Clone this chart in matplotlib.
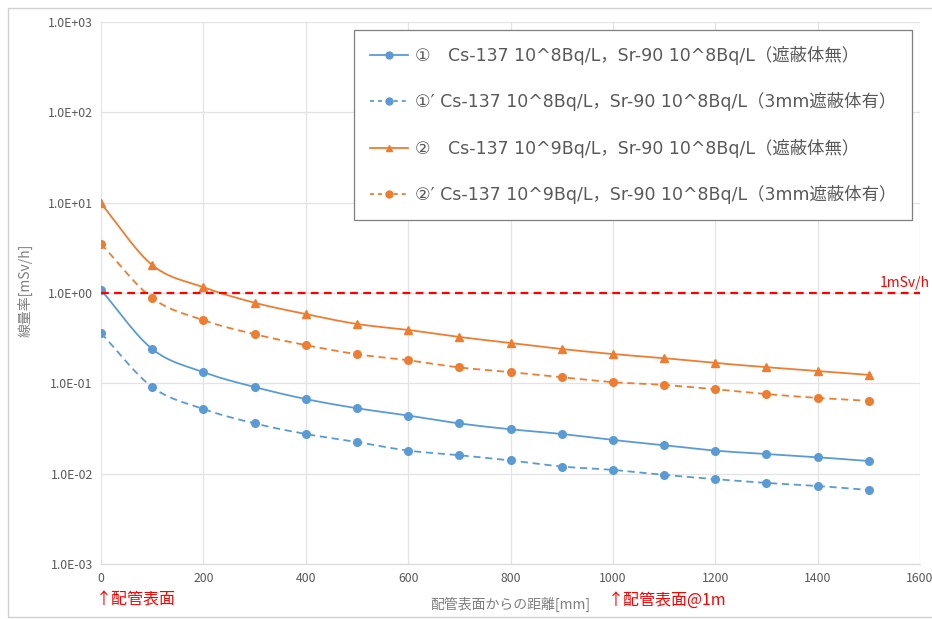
import numpy as np
import matplotlib
matplotlib.use('Agg')
import matplotlib.pyplot as plt
from matplotlib.lines import Line2D
from matplotlib.patches import Rectangle
from matplotlib.ticker import FixedLocator, FuncFormatter, NullLocator

plt.rcParams['font.family'] = ['Noto Sans CJK JP', 'DejaVu Sans']

# ---------------- data ----------------
distance = [0, 100, 200, 300, 400, 500, 600, 700, 800, 900, 1000, 1100, 1200, 1300, 1400, 1500]
s1 = [1.08, 0.24, 0.133, 0.091, 0.067, 0.053, 0.044, 0.036, 0.031, 0.0275, 0.0236, 0.0207, 0.018, 0.0165, 0.0152, 0.0138]
s1p = [0.36, 0.091, 0.052, 0.036, 0.0275, 0.0224, 0.018, 0.016, 0.014, 0.012, 0.011, 0.0097, 0.0087, 0.0079, 0.0073, 0.0066]
s2 = [9.8, 2.04, 1.16, 0.78, 0.585, 0.454, 0.39, 0.326, 0.28, 0.24, 0.211, 0.19, 0.168, 0.151, 0.137, 0.124]
s2p = [3.5, 0.88, 0.5, 0.35, 0.265, 0.21, 0.18, 0.15, 0.133, 0.117, 0.103, 0.096, 0.086, 0.076, 0.069, 0.064]
labels = [
    "①\u3000Cs-137 10^8Bq/L，Sr-90 10^8Bq/L（遮蔽体無）",
    "①′ Cs-137 10^8Bq/L，Sr-90 10^8Bq/L（3mm遮蔽体有）",
    "②\u3000Cs-137 10^9Bq/L，Sr-90 10^8Bq/L（遮蔽体無）",
    "②′ Cs-137 10^9Bq/L，Sr-90 10^8Bq/L（3mm遮蔽体有）",
]
limit_value = 1.0
limit_label = "1mSv/h"
y_ticks = [1e-3, 1e-2, 1e-1, 1e0, 1e1, 1e2, 1e3]
x_ticks = [0, 200, 400, 600, 800, 1000, 1200, 1400, 1600]
x_label = "配管表面からの距離[mm]"
y_label = "線量率[mSv/h]"
note_left = "↑配管表面"
note_right = "↑配管表面@1m"

BLUE = '#5B9BD5'
ORANGE = '#ED7D31'
GRAY = '#595959'


def smooth(x, y, n=24):
    """Catmull-Rom curve through the points in (x, log10 y) space."""
    x = np.asarray(x, float)
    ly = np.log10(np.asarray(y, float))
    P = np.column_stack([x, ly])
    P = np.vstack([2 * P[0] - P[1], P, 2 * P[-1] - P[-2]])
    out = []
    for i in range(1, len(P) - 2):
        p0, p1, p2, p3 = P[i - 1], P[i], P[i + 1], P[i + 2]
        t = np.linspace(0, 1, n, endpoint=False)[:, None]
        pts = 0.5 * ((2 * p1) + (-p0 + p2) * t + (2 * p0 - 5 * p1 + 4 * p2 - p3) * t ** 2
                     + (-p0 + 3 * p1 - 3 * p2 + p3) * t ** 3)
        out.append(pts)
    out.append(P[-2][None, :])
    out = np.vstack(out)
    return out[:, 0], 10 ** out[:, 1]


fig = plt.figure(figsize=(9.32, 6.19), dpi=100)
fig.patches.append(Rectangle((8 / 932, 1 - 617 / 619), 1.2, (617 - 8) / 619,
                             transform=fig.transFigure, fill=False,
                             edgecolor='#D0D0D0', linewidth=1.0))
ax = fig.add_axes([101 / 932, 1 - 564 / 619, 819 / 932, 542 / 619])
ax.set_yscale('log')
ax.set_xlim(0, 1600)
ax.set_ylim(1e-3, 1e3)

for sp in ['top', 'right', 'left']:
    ax.spines[sp].set_visible(False)
ax.spines['bottom'].set_color('#D9D9D9')

ax.yaxis.set_major_locator(FixedLocator(y_ticks))
ax.yaxis.set_minor_locator(NullLocator())
ax.yaxis.set_major_formatter(FuncFormatter(lambda v, p: f"{v:.1E}"))
ax.xaxis.set_major_locator(FixedLocator(x_ticks))
ax.tick_params(axis='both', length=0, labelsize=8.8, labelcolor=GRAY, pad=6)
ax.grid(True, color='#E3E3E3', linewidth=0.9)
ax.set_axisbelow(True)

lw = 1.3
series = [
    (s1, BLUE, '-', 'o', labels[0]),
    (s1p, BLUE, '--', 'o', labels[1]),
    (s2, ORANGE, '-', '^', labels[2]),
    (s2p, ORANGE, '--', 'o', labels[3]),
]
handles = []
for ys, col, ls, mk, lab in series:
    sx, sy = smooth(distance, ys)
    line, = ax.plot(sx, sy, color=col, linewidth=lw, linestyle=ls, zorder=3)
    if ls == '--':
        line.set_dashes((4, 2.6))
    ax.plot(distance, ys, linestyle='none', marker=mk, markersize=5.5,
            color=col, markeredgecolor=col, zorder=4)
    h = Line2D([], [], color=col, linewidth=lw, linestyle=ls, marker=mk, markersize=5)
    if ls == '--':
        h.set_dashes((2.2, 2.2))
    handles.append(h)

red, = ax.plot([0, 1600], [limit_value, limit_value], color='#FF0000', linewidth=1.6, zorder=5)
red.set_dashes((3.5, 2.4))
ax.text(1522, limit_value * 1.07, limit_label, color='#FF0000', fontsize=10,
        ha='left', va='bottom', clip_on=False)

leg = ax.legend(handles, labels, loc='upper right', bbox_to_anchor=(0.990, 0.985),
                prop={'family': ['DejaVu Sans', 'Noto Sans CJK JP'], 'size': 12.5},
                frameon=True, fancybox=False, framealpha=1,
                edgecolor='#7F7F7F', handlelength=2.2, labelspacing=1.58,
                borderpad=0.9, handletextpad=0.4, borderaxespad=0)
leg.get_frame().set_linewidth(0.9)
for t in leg.get_texts():
    t.set_color(GRAY)

fig.text(510 / 932, 1 - 604 / 619, x_label, ha='center', va='center', fontsize=10, color='#7F7F7F')
fig.text(25 / 932, 1 - 290 / 619, y_label, ha='center', va='center', fontsize=10,
         color='#7F7F7F', rotation=90)
fig.text(96 / 932, 1 - 600 / 619, note_left, ha='left', va='center', fontsize=11.5, color='#FF0000')
fig.text(608 / 932, 1 - 600 / 619, note_right, ha='left', va='center', fontsize=11.5, color='#FF0000')

fig.savefig('out.png', dpi=100)
